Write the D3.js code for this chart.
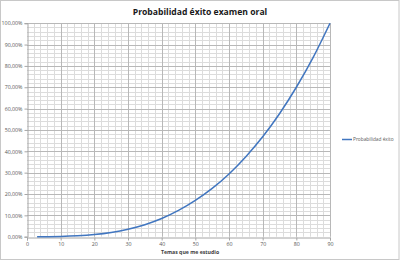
<!DOCTYPE html>
<html>
<head>
<meta charset="utf-8">
<script src="https://cdn.jsdelivr.net/npm/d3@7"></script>
<style>
  body { margin: 0; background: #fff; }
  svg { display: block; }
</style>
</head>
<body>
<div id="chart"></div>
<script>
// Data
const temas = [3, 5, 10, 15, 20, 25, 30, 35, 40, 45, 50, 55, 60, 65, 70, 75, 80, 85, 90];
const probabilidad = [0, 0.0001, 0.001, 0.004, 0.010, 0.020, 0.035, 0.056, 0.085, 0.123, 0.170, 0.226, 0.294, 0.375, 0.468, 0.576, 0.700, 0.840, 1.0];
const xTicks = [0, 10, 20, 30, 40, 50, 60, 70, 80, 90];
const yTicks = [0, 0.1, 0.2, 0.3, 0.4, 0.5, 0.6, 0.7, 0.8, 0.9, 1.0];
const seriesName = "Probabilidad éxito";

const W = 400, H = 262;
const plotLeft = 27, plotRight = 330, plotTop = 23.2, plotBottom = 236.7;

const svg = d3.select("#chart").append("svg")
  .attr("width", W).attr("height", H)
  .style("font-family", "'Open Sans', sans-serif");

// outer frame
svg.append("rect")
  .attr("x", 0.5).attr("y", 0.5)
  .attr("width", W - 1.5).attr("height", H - 3)
  .attr("fill", "#fff").attr("stroke", "#c8c8c8");

const x = d3.scaleLinear().domain([0, 90]).range([plotLeft, plotRight]);
const y = d3.scaleLinear().domain([0, 1]).range([plotBottom, plotTop]);

// minor grid
const grid = svg.append("g");
grid.selectAll(".vminor")
  .data(d3.range(2, 91, 2))
  .enter().append("line")
  .attr("x1", d => Math.round(x(d)) + 0.5).attr("x2", d => Math.round(x(d)) + 0.5)
  .attr("y1", plotTop).attr("y2", plotBottom)
  .attr("stroke", "#dcdcdc").attr("stroke-width", 1);
grid.selectAll(".hminor")
  .data(d3.range(0.02, 1.001, 0.02))
  .enter().append("line")
  .attr("x1", plotLeft).attr("x2", plotRight)
  .attr("y1", d => Math.round(y(d)) + 0.5).attr("y2", d => Math.round(y(d)) + 0.5)
  .attr("stroke", "#dcdcdc").attr("stroke-width", 1);

// major grid
grid.selectAll(".vmajor")
  .data(xTicks.slice(1))
  .enter().append("line")
  .attr("x1", d => Math.round(x(d)) + 0.5).attr("x2", d => Math.round(x(d)) + 0.5)
  .attr("y1", plotTop).attr("y2", plotBottom)
  .attr("stroke", "#b8b8b8").attr("stroke-width", 1);
grid.selectAll(".hmajor")
  .data(yTicks.slice(1))
  .enter().append("line")
  .attr("x1", plotLeft).attr("x2", plotRight)
  .attr("y1", d => Math.round(y(d)) + 0.5).attr("y2", d => Math.round(y(d)) + 0.5)
  .attr("stroke", "#b8b8b8").attr("stroke-width", 1);

// axes
const fmt = d => d3.format(".2f")(d * 100).replace(".", ",") + "%";
const yAxis = svg.append("g")
  .attr("transform", `translate(${Math.round(plotLeft) + 0.5},0)`)
  .call(d3.axisLeft(y).tickValues(yTicks).tickFormat(fmt).tickSize(3).tickPadding(2));
const xAxis = svg.append("g")
  .attr("transform", `translate(0,${Math.round(plotBottom) + 0.5})`)
  .call(d3.axisBottom(x).tickValues(xTicks).tickSize(3).tickPadding(2));

[xAxis, yAxis].forEach(a => {
  a.select(".domain").attr("stroke", "#a6a6a6");
  a.selectAll(".tick line").attr("stroke", "#a6a6a6");
  a.selectAll(".tick text")
    .attr("fill", "#595959")
    .style("font-size", "5.3px")
    .style("font-family", "'Open Sans', sans-serif");
});

// series line
const line = d3.line()
  .x((d, i) => x(temas[i]))
  .y(d => y(d))
  .curve(d3.curveMonotoneX);
svg.append("path")
  .datum(probabilidad)
  .attr("d", line)
  .attr("fill", "none")
  .attr("stroke", "#4176c0")
  .attr("stroke-width", 1.5);

// title
svg.append("text")
  .attr("x", 200).attr("y", 14.5)
  .attr("text-anchor", "middle")
  .style("font-size", "8.6px").style("font-weight", "bold")
  .attr("fill", "#1a1a1a")
  .text("Probabilidad éxito examen oral");

// x axis title
svg.append("text")
  .attr("x", 190).attr("y", 253.5)
  .attr("text-anchor", "middle")
  .style("font-size", "5.2px").style("font-weight", "bold")
  .attr("fill", "#404040")
  .text("Temas que me estudio");

// legend
const legend = svg.append("g").attr("transform", "translate(342,139.5)");
legend.append("line")
  .attr("x1", 0).attr("x2", 10)
  .attr("stroke", "#4176c0").attr("stroke-width", 1.5);
legend.append("text")
  .attr("x", 11).attr("y", 0).attr("dy", "0.35em")
  .style("font-size", "4.8px")
  .attr("fill", "#595959")
  .text(seriesName);
</script>
</body>
</html>
